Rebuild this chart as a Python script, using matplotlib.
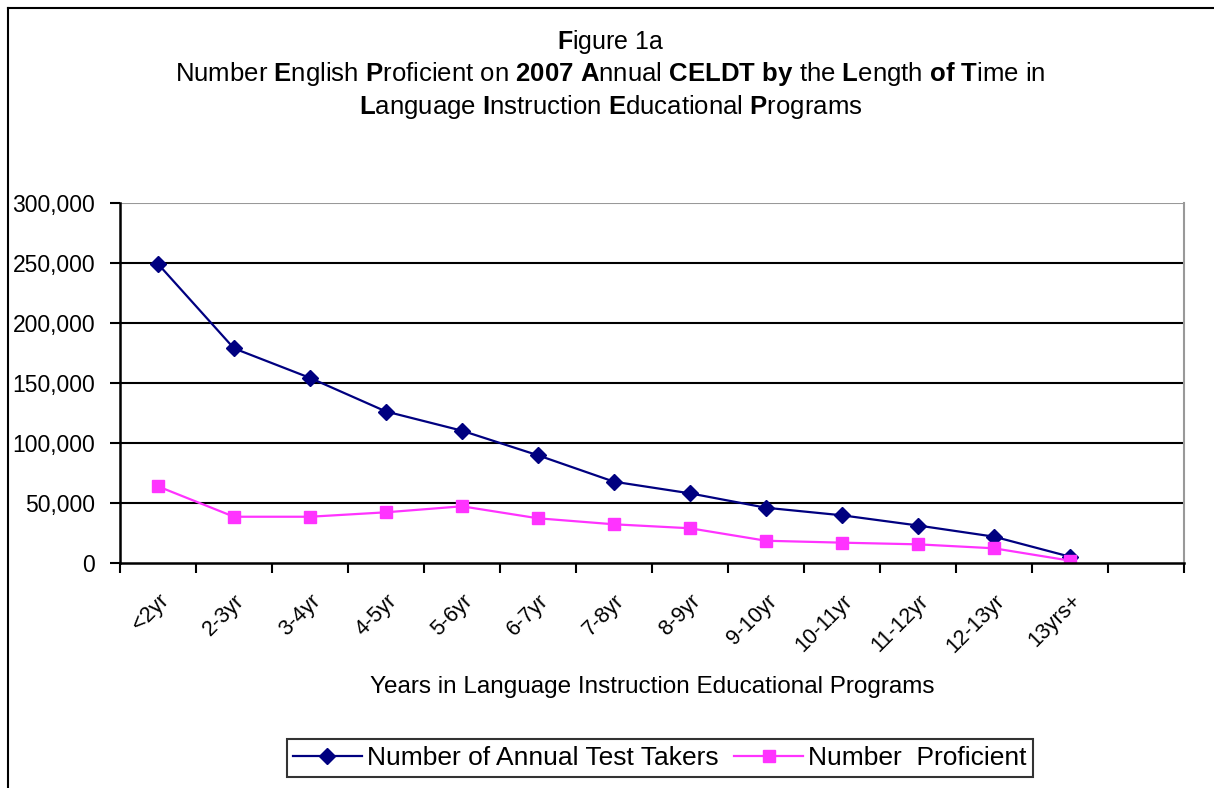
import matplotlib
matplotlib.use("Agg")
import matplotlib.pyplot as plt
from matplotlib.lines import Line2D

plt.rcParams['font.family'] = ['Liberation Sans', 'DejaVu Sans']
plt.rcParams['mathtext.fontset'] = 'custom'
plt.rcParams['mathtext.rm'] = 'Liberation Sans'
plt.rcParams['mathtext.bf'] = 'Liberation Sans:bold'

categories = ["<2yr", "2-3yr", "3-4yr", "4-5yr", "5-6yr", "6-7yr", "7-8yr",
              "8-9yr", "9-10yr", "10-11yr", "11-12yr", "12-13yr", "13yrs+"]
test_takers = [249000, 178600, 154000, 126000, 110000, 89500, 67500,
               57800, 45800, 39500, 31000, 21700, 5000]
proficient = [63600, 38300, 38300, 42000, 47000, 37000, 32000,
              28700, 18300, 16700, 15300, 12000, 1700]
y_ticks = [0, 50000, 100000, 150000, 200000, 250000, 300000]
y_labels = ["0", "50,000", "100,000", "150,000", "200,000", "250,000", "300,000"]

W, H = 1214, 788
fig = plt.figure(figsize=(W / 100, H / 100), dpi=100)
ax = fig.add_axes([120 / W, 1 - 562.7 / H, (1184 - 120) / W, (562.7 - 202.7) / H])

x = list(range(len(categories)))
ax.plot(x, test_takers, color='#000080', lw=1.6, marker='D', ms=8,
        label='Number of Annual Test Takers')
ax.plot(x, proficient, color='#FF33FF', lw=1.6, marker='s', ms=8,
        label='Number  Proficient')

ax.set_xlim(-0.5, len(categories) + 0.5)
ax.set_ylim(0, 300000)
ax.set_yticks(y_ticks)
ax.set_yticklabels(y_labels, fontsize=16.5)
for t in y_ticks[1:-1]:
    ax.axhline(t, color='black', lw=1.5, zorder=0)
ax.axhline(300000, color='#999999', lw=1.5, zorder=0)

ax.set_xticks(x)
ax.set_xticklabels(categories, rotation=45, ha='right', rotation_mode='anchor', fontsize=15.5)
ax.set_xticks([i - 0.5 for i in range(len(categories) + 2)], minor=True)
ax.tick_params(axis='x', which='major', length=0, pad=20)
ax.tick_params(axis='x', which='minor', length=7, width=1.5, direction='out')
ax.tick_params(axis='y', which='major', length=7, width=1.5, direction='out', pad=11)

for s in ['left', 'bottom']:
    ax.spines[s].set_linewidth(1.8)
    ax.spines[s].set_color('black')
ax.spines['top'].set_visible(False)
ax.spines['right'].set_color('#999999')
ax.spines['right'].set_linewidth(1.5)

ax.set_xlabel("Years in Language Instruction Educational Programs", fontsize=17.5, labelpad=14)

fig.text(0.503, 1 - 42 / H, r"$\mathbf{F}$igure 1a", ha='center', va='center', fontsize=18)
fig.text(0.503, 1 - 74 / H,
         r"Number $\mathbf{E}$nglish $\mathbf{P}$roficient on $\mathbf{2007}$ $\mathbf{A}$nnual "
         r"$\mathbf{CELDT}$ $\mathbf{by}$ the $\mathbf{L}$ength $\mathbf{of}$ $\mathbf{T}$ime in",
         ha='center', va='center', fontsize=18.5)
fig.text(0.503, 1 - 107 / H,
         r"$\mathbf{L}$anguage $\mathbf{I}$nstruction $\mathbf{E}$ducational $\mathbf{P}$rograms",
         ha='center', va='center', fontsize=18.5)

leg = fig.legend(loc='center', bbox_to_anchor=(660 / W, 1 - 758 / H), ncol=2,
                 fontsize=19, frameon=True, fancybox=False, handlelength=2.6,
                 columnspacing=0.6, handletextpad=0.2, borderpad=0.25)
leg.get_frame().set_edgecolor('black')
leg.get_frame().set_linewidth(1.5)

fig.add_artist(Line2D([8 / W, 8 / W], [0, 1 - 8 / H], color='black', lw=1.5))
fig.add_artist(Line2D([8 / W, 1], [1 - 8 / H, 1 - 8 / H], color='black', lw=1.5))

fig.savefig("out.png", dpi=100)
